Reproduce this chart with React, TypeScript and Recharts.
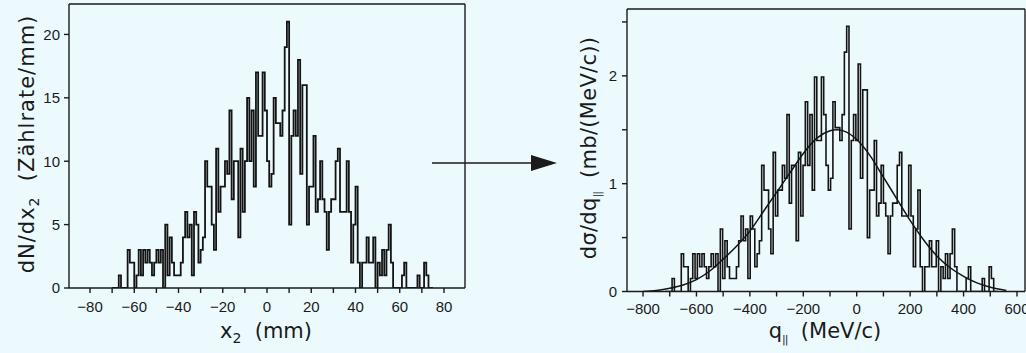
import React from 'react';
import { LineChart, Line, XAxis, YAxis } from 'recharts';

const FONT = '"Liberation Sans", Arial, Helvetica, sans-serif';
const TITLE_FONT = '"DejaVu Sans", "Liberation Sans", sans-serif';
const INK = '#1a1a1a';
const PAPER = '#edfafd';

// left panel: counts per 1 mm bin of x2, first bin edge at -70 mm
const x2Start = -70;
const x2Counts = [
  0, 0, 0, 1, 0, 0, 0, 3, 2, 2,
  0, 1, 3, 1, 3, 2, 3, 2, 1, 2,
  3, 2, 3, 0, 5, 1, 4, 2, 1, 1,
  1, 2, 4, 6, 4, 5, 1, 6, 5, 2,
  3, 4, 10, 8, 8, 5, 3, 11, 6, 8,
  8, 10, 9, 14, 7, 10, 10, 4, 11, 6,
  10, 15, 10, 14, 8, 17, 12, 12, 17, 14,
  10, 8, 9, 15, 13, 13, 12, 14, 19, 21,
  5, 12, 14, 12, 18, 9, 16, 16, 5, 8,
  8, 12, 6, 7, 10, 7, 6, 3, 6, 7,
  7, 10, 11, 6, 6, 6, 10, 6, 2, 5,
  8, 2, 0, 2, 2, 4, 2, 2, 4, 0,
  2, 1, 3, 1, 3, 5, 2, 0, 0, 0,
  0, 1, 2, 0, 0, 0, 0, 0, 1, 0,
  0, 2, 1, 0, 0,
];

// right panel: dσ/dq∥ in mb/(MeV/c), bins 8.6 MeV/c wide, first edge at -717
const qStart = -717;
const qBinWidth = 8.6;
const qValues = [
  0, 0, 0, 0.12, 0, 0, 0, 0.35, 0.23, 0.23,
  0, 0.12, 0.35, 0.12, 0.35, 0.23, 0.35, 0.23, 0.12, 0.23,
  0.35, 0.23, 0.35, 0, 0.58, 0.12, 0.47, 0.23, 0.12, 0.12,
  0.12, 0.23, 0.47, 0.7, 0.47, 0.58, 0.12, 0.7, 0.58, 0.23,
  0.35, 0.47, 1.17, 0.94, 0.94, 0.58, 0.35, 1.29, 0.7, 0.94,
  0.94, 1.17, 1.05, 1.64, 0.82, 1.17, 1.17, 0.47, 1.29, 0.7,
  1.17, 1.76, 1.17, 1.64, 0.94, 1.99, 1.4, 1.4, 1.99, 1.64,
  1.17, 0.94, 1.05, 1.76, 1.52, 1.52, 1.4, 1.64, 2.22, 2.46,
  0.58, 1.4, 1.64, 1.4, 2.11, 1.05, 1.87, 1.87, 0.5, 0.94,
  0.94, 1.4, 0.7, 0.82, 1.17, 0.82, 0.7, 0.35, 0.7, 0.82,
  0.82, 1.17, 1.29, 0.7, 0.7, 0.7, 1.17, 0.7, 0.23, 0.58,
  0.94, 0.23, 0, 0.23, 0.23, 0.47, 0.23, 0.23, 0.47, 0,
  0.23, 0.12, 0.35, 0.12, 0.35, 0.58, 0.23, 0, 0, 0,
  0, 0.12, 0.23, 0, 0, 0, 0, 0, 0.12, 0,
  0, 0.23, 0.12, 0, 0,
];

// fitted curve over the right histogram
const fitQ = [-800, -750, -700, -650, -600, -550, -500, -450, -400, -350, -300, -250, -200, -150, -100, -75, -50, 0, 50, 100, 150, 200, 250, 300, 350, 400, 450, 500, 560];
const fitSigma = [0, 0.01, 0.03, 0.06, 0.11, 0.19, 0.3, 0.42, 0.56, 0.74, 0.92, 1.1, 1.28, 1.42, 1.49, 1.5, 1.49, 1.41, 1.26, 1.06, 0.86, 0.66, 0.48, 0.33, 0.22, 0.14, 0.08, 0.04, 0.01];

const x2Ticks = [-80, -70, -60, -50, -40, -30, -20, -10, 0, 10, 20, 30, 40, 50, 60, 70, 80];
const x2Labels = [-80, -60, -40, -20, 0, 20, 40, 60, 80];
const countTicks = [0, 5, 10, 15, 20];
const qTicks = [-800, -700, -600, -500, -400, -300, -200, -100, 0, 100, 200, 300, 400, 500, 600];
const qLabels = [-800, -600, -400, -200, 0, 200, 400, 600];
const sigmaTicks = [0, 0.5, 1, 1.5, 2, 2.5];
const sigmaLabels = [0, 1, 2];

const x2Data = [
  ...x2Counts.map((v, i) => ({ x: x2Start + i, v })),
  { x: x2Start + x2Counts.length, v: 0 },
];
const qData = [
  ...qValues.map((v, i) => ({ x: qStart + i * qBinWidth, v })),
  { x: qStart + qValues.length * qBinWidth, v: 0 },
];
const fitData = fitQ.map((x, i) => ({ x, y: fitSigma[i] }));

const fmt = (shown: number[]) => (v: number) =>
  shown.includes(v) ? (v < 0 ? '\u2212' + Math.abs(v) : String(v)) : '';

const tickStyle = { fontSize: 15, fill: INK, fontFamily: FONT };
const axisLine = { stroke: INK, strokeWidth: 1.4 };

export default function App() {
  return (
    <div style={{ position: 'absolute', left: 0, top: 0, width: 1026, height: 353, background: PAPER, overflow: 'hidden' }}>
      <div style={{ position: 'absolute', left: 0, top: 0 }}>
        <LineChart width={480} height={353} margin={{ top: 4, right: 15, bottom: 35, left: 29 }}>
          <XAxis type="number" dataKey="x" domain={[-89.5, 89.5]} allowDataOverflow ticks={x2Ticks}
            tickFormatter={fmt(x2Labels)} tick={tickStyle} tickSize={5} tickMargin={8}
            axisLine={axisLine} tickLine={axisLine} height={30} interval={0} />
          <XAxis xAxisId="top" type="number" dataKey="x" orientation="top" mirror domain={[-89.5, 89.5]}
            allowDataOverflow ticks={x2Ticks} tick={false} tickSize={6} axisLine={axisLine} tickLine={axisLine} height={1} />
          <YAxis type="number" domain={[0, 22.4]} allowDataOverflow ticks={countTicks} tick={tickStyle}
            tickSize={5} tickMargin={4} axisLine={axisLine} tickLine={axisLine} width={40} interval={0} />
          <YAxis yAxisId="right" type="number" orientation="right" mirror domain={[0, 22.4]} allowDataOverflow
            ticks={[5, 10, 15, 20]} tick={false} tickSize={6} axisLine={axisLine} tickLine={axisLine} width={1} />
          <Line data={x2Data} dataKey="v" type="stepAfter" stroke="#141414" strokeWidth={1.8} dot={false}
            isAnimationActive={false} />
        </LineChart>
      </div>
      <div style={{ position: 'absolute', left: 540, top: 0 }}>
        <LineChart width={486} height={353} margin={{ top: 9, right: 1, bottom: 31.5, left: 37 }}>
          <XAxis type="number" dataKey="x" domain={[-860, 630]} allowDataOverflow ticks={qTicks}
            tickFormatter={fmt(qLabels)} tick={tickStyle} tickSize={5} tickMargin={7}
            axisLine={axisLine} tickLine={axisLine} height={30} interval={0} />
          <XAxis xAxisId="top" type="number" dataKey="x" orientation="top" mirror domain={[-860, 630]}
            allowDataOverflow ticks={qTicks} tick={false} tickSize={6} axisLine={axisLine} tickLine={axisLine} height={1} />
          <YAxis type="number" domain={[0, 2.62]} allowDataOverflow ticks={sigmaTicks} tickFormatter={fmt(sigmaLabels)}
            tick={tickStyle} tickSize={5} tickMargin={5} axisLine={axisLine} tickLine={axisLine} width={50} interval={0} />
          <YAxis yAxisId="right" type="number" orientation="right" mirror domain={[0, 2.62]} allowDataOverflow
            ticks={[0.5, 1, 1.5, 2, 2.5]} tick={false} tickSize={6} axisLine={axisLine} tickLine={axisLine} width={1} />
          <Line data={qData} dataKey="v" type="stepAfter" stroke="#141414" strokeWidth={1.6} dot={false}
            isAnimationActive={false} />
          <Line data={fitData} dataKey="y" type="monotone" stroke="#141414" strokeWidth={1.5} dot={false}
            isAnimationActive={false} />
        </LineChart>
      </div>
      <svg width={1026} height={353} style={{ position: 'absolute', left: 0, top: 0, pointerEvents: 'none' }}
        fontFamily={TITLE_FONT} fill={INK}>
        <text transform="translate(34,144) rotate(-90)" textAnchor="middle" fontSize={21} letterSpacing={1}>
          dN/dx<tspan dy={5} fontSize={14}>2</tspan><tspan dy={-5}>{'\u00a0\u00a0'}(Zählrate/mm)</tspan>
        </text>
        <text x={266} y={338} textAnchor="middle" fontSize={21}>
          x<tspan dy={5} fontSize={14}>2</tspan><tspan dy={-5}>{'\u00a0\u00a0'}(mm)</tspan>
        </text>
        <text transform="translate(596,148) rotate(-90)" textAnchor="middle" fontSize={21} letterSpacing={0.3}>
          dσ/dq<tspan dy={5} fontSize={11} letterSpacing={-1}>||</tspan><tspan dy={-5}>{'\u00a0\u00a0'}(mb/(MeV/c))</tspan>
        </text>
        <text x={825} y={338} textAnchor="middle" fontSize={21}>
          q<tspan dy={5} fontSize={11} letterSpacing={-1}>||</tspan><tspan dy={-5}>{'\u00a0\u00a0'}(MeV/c)</tspan>
        </text>
        <line x1={432} y1={163} x2={534} y2={163} stroke={INK} strokeWidth={1.3} />
        <polygon points="531,155 557,163 531,171" fill={INK} />
      </svg>
    </div>
  );
}
